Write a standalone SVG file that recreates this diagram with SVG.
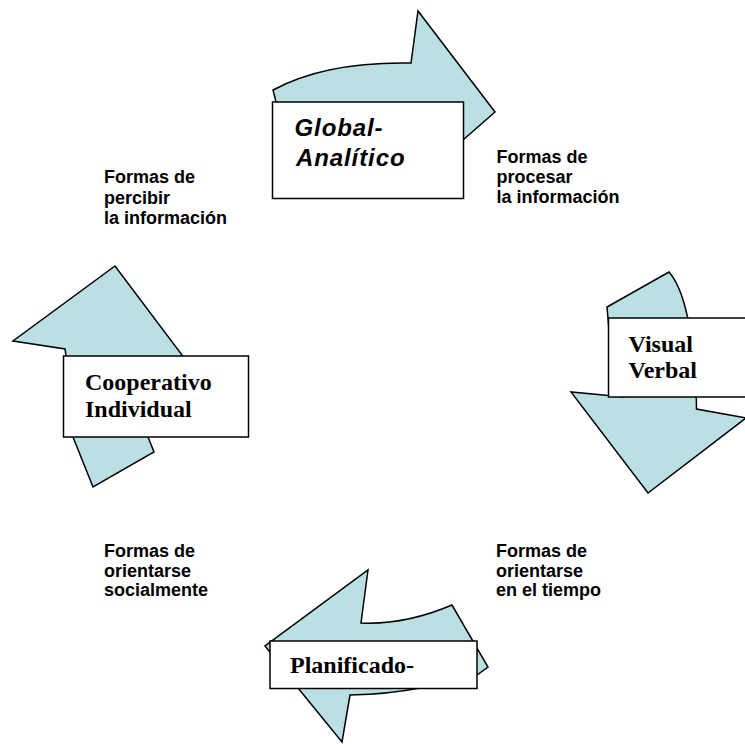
<svg xmlns="http://www.w3.org/2000/svg" width="745" height="744" viewBox="0 0 745 744">
<style>
.arrow{fill:#BBE0E3;stroke:#000;stroke-width:1.5;stroke-linejoin:miter}
.box{fill:#fff;stroke:#000;stroke-width:1.5}
.tn{font-family:"Liberation Serif","Times New Roman",serif;font-weight:bold;font-size:24px;fill:#000}
.ar{font-family:"Liberation Sans",Arial,sans-serif;font-weight:bold;font-style:italic;font-size:24px;letter-spacing:0.9px;fill:#000}
.lbl{font-family:"Liberation Sans",Arial,sans-serif;font-weight:bold;font-size:18px;fill:#000}
</style>
<rect width="745" height="744" fill="#fff"/>
<g id="connectors">
<path class="arrow" d="M283,130 L273,90 C310,70 360,62 411,63 L418,11 L495,112 L440,160 L300,160 Z"/>
<path class="arrow" d="M609,330 L607,307 L669,272 Q683,288 690,330 L696,380 L696.5,409 L746,418 L648,493 L571,392 L624,397 L620,360 Z"/>
<path class="arrow" d="M368,570 L361,623 Q405,625 452,605 L488,667 L477,675 L450,670 L420,688 Q390,694 350,695 L342,742 L298,688 L265,646 Z"/>
<path class="arrow" d="M66,356 L65,349 L13,341 L115,266 L182,355 L190,400 L148,437 L154,452 L93,487 L73,437 L70,400 Z"/>
</g>
<g id="node-global">
<rect class="box" x="272.5" y="102" width="191" height="96.5"/>
<text class="ar" x="294.5" y="135.7">Global-</text>
<text class="ar" x="296" y="165.7">Analítico</text>
</g>
<g id="node-visual">
<rect class="box" x="608.5" y="318" width="145" height="79"/>
<text class="tn" x="628.5" y="351.7">Visual</text>
<text class="tn" x="628.5" y="378.3">Verbal</text>
</g>
<g id="node-planificado">
<rect class="box" x="270" y="641" width="207" height="47.5"/>
<text class="tn" x="290" y="673.3">Planificado-</text>
</g>
<g id="node-cooperativo">
<rect class="box" x="63.5" y="356" width="185" height="81"/>
<text class="tn" x="85" y="390">Cooperativo</text>
<text class="tn" x="85" y="416.7">Individual</text>
</g>
<g id="labels">
<text class="lbl" x="496.5" y="163.3">Formas de</text>
<text class="lbl" x="496.5" y="183.3">procesar</text>
<text class="lbl" x="496.5" y="202.8">la información</text>
<text class="lbl" x="104" y="183.3">Formas de</text>
<text class="lbl" x="104" y="203.5">percibir</text>
<text class="lbl" x="104" y="224">la información</text>
<text class="lbl" x="104" y="556.7">Formas de</text>
<text class="lbl" x="104" y="576.7">orientarse</text>
<text class="lbl" x="104" y="596">socialmente</text>
<text class="lbl" x="496" y="557.3">Formas de</text>
<text class="lbl" x="496" y="576.7">orientarse</text>
<text class="lbl" x="496" y="596">en el tiempo</text>
</g>
</svg>
